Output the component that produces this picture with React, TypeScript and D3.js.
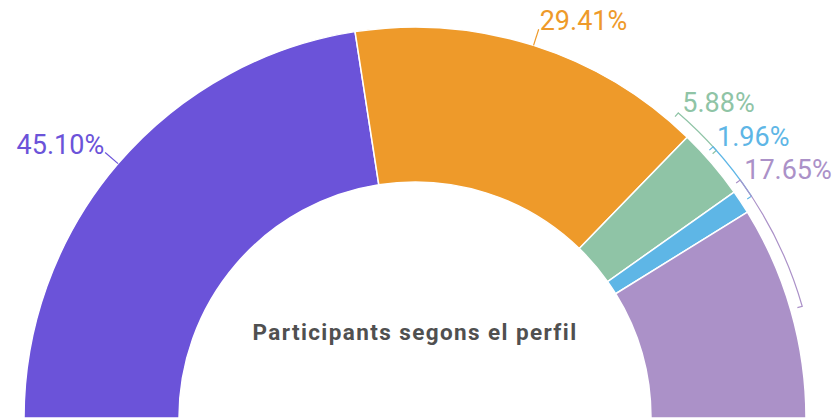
import React from "react";
import * as d3 from "d3";

const categories = ["A", "B", "C", "D", "E"];
const values = [45.1, 29.41, 5.88, 1.96, 17.65];
const labels = ["45.10%", "29.41%", "5.88%", "1.96%", "17.65%"];
const colors = ["#6B53D9", "#EE9A2A", "#8FC4A6", "#5EB6E6", "#AB91C8"];
const title = "Participants segons el perfil";

// bracket annotation spans (degrees from vertical) for small slices, layout only
const bracketSpans: Record<number, [number, number]> = {
  2: [40.8, 48.4],
  3: [47.7, 56.6],
  4: [53.8, 73.9],
};

const W = 836;
const H = 419;
const cx = 415;
const cy = 418;
const R = 391;
const r0 = 236;

export default function App() {
  const pie = d3
    .pie<number>()
    .sort(null)
    .value((d) => d)
    .startAngle(-Math.PI / 2)
    .endAngle(Math.PI / 2);
  const arcs = pie(values);
  const arcGen = d3.arc<d3.PieArcDatum<number>>().innerRadius(r0).outerRadius(R);
  const pt = (a: number, rr: number) => [cx + rr * Math.sin(a), cy - rr * Math.cos(a)];
  const font = "Roboto, 'Noto Sans', sans-serif";
  const br = 403;
  const deg = Math.PI / 180;

  return (
    <svg
      width={W}
      height={H}
      style={{ position: "absolute", left: 0, top: 0, background: "#fff" }}
    >
      <g transform={`translate(${cx},${cy})`}>
        {arcs.map((a, i) => (
          <path key={categories[i]} d={arcGen(a) || ""} fill={colors[i]} stroke="#fff" strokeWidth={1.5} />
        ))}
      </g>
      {arcs.map((a, i) => {
        const span = bracketSpans[i];
        if (span) {
          const a0 = span[0] * deg;
          const a1 = span[1] * deg;
          const p0 = pt(a0, br);
          const p1 = pt(a1, br);
          const t0 = pt(a0, br - 5);
          const t1 = pt(a1, br - 5);
          const d = `M${t0[0]},${t0[1]}L${p0[0]},${p0[1]}A${br},${br} 0 0 1 ${p1[0]},${p1[1]}L${t1[0]},${t1[1]}`;
          return (
            <g key={"l" + i}>
              <path d={d} fill="none" stroke={colors[i]} strokeWidth={1.2} />
              <text x={p0[0] + 4} y={p0[1] - 1} fill={colors[i]} fontFamily={font} fontSize={27}>
                {labels[i]}
              </text>
            </g>
          );
        }
        const mid = (a.startAngle + a.endAngle) / 2;
        const q0 = pt(mid, R);
        const q1 = pt(mid, R + 17);
        const left = Math.sin(mid) < 0;
        return (
          <g key={"l" + i}>
            <line x1={q0[0]} y1={q0[1]} x2={q1[0]} y2={q1[1]} stroke={colors[i]} strokeWidth={1.2} />
            <text
              x={left ? q1[0] - 1 : q1[0] + 1}
              y={q1[1] + 1}
              textAnchor={left ? "end" : "start"}
              fill={colors[i]}
              fontFamily={font}
              fontSize={27}
            >
              {labels[i]}
            </text>
          </g>
        );
      })}
      <text
        x={cx}
        y={340}
        textAnchor="middle"
        fill="#505050"
        fontFamily={font}
        fontWeight={700}
        fontSize={22.5}
        letterSpacing={1.4}
      >
        {title}
      </text>
    </svg>
  );
}
